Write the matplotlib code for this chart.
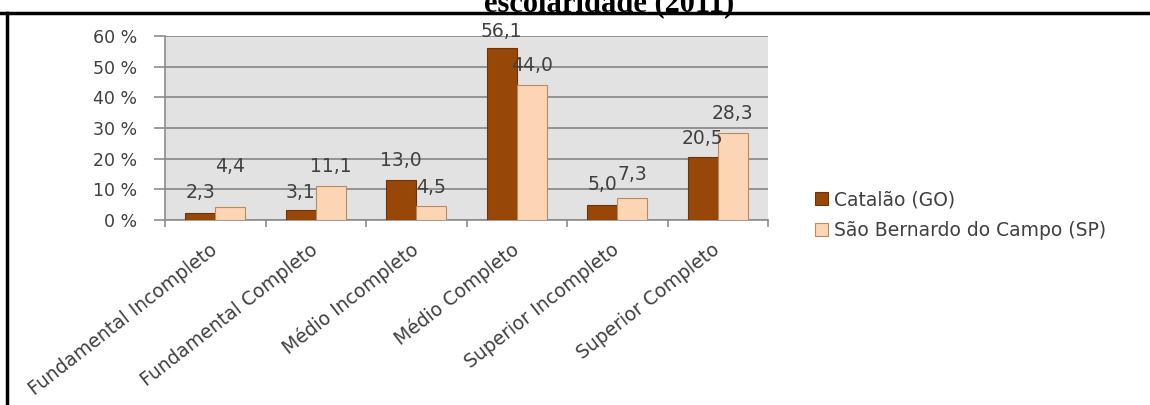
import matplotlib
matplotlib.use("Agg")
import matplotlib.pyplot as plt
from matplotlib.lines import Line2D
from matplotlib.patches import Patch
import numpy as np

plt.rcParams['font.family'] = ['DejaVu Sans']

categories = ["Fundamental Incompleto", "Fundamental Completo", "Médio Incompleto",
              "Médio Completo", "Superior Incompleto", "Superior Completo"]
catalao = [2.3, 3.1, 13.0, 56.1, 5.0, 20.5]
sao_bernardo = [4.4, 11.1, 4.5, 44.0, 7.3, 28.3]
series_names = ["Catalão (GO)", "São Bernardo do Campo (SP)"]
yticks = [0, 10, 20, 30, 40, 50, 60]
title = "escolaridade (2011)"

# vertical lift (pixels) of each value label above its bar
lift_catalao = [20, 18, 20, 16, 20, 19]
lift_sbc = [40, 19, 19, 20, 23, 20]

dark = "#974708"
dark_edge = "#6e3306"
light = "#fcd5b4"
light_edge = "#b98c60"
txt = "#404040"

fig = plt.figure(figsize=(11.5, 4.05), dpi=100)
fig.patch.set_facecolor("white")

ax = fig.add_axes([165 / 1150, 1 - 220 / 405, (768 - 165) / 1150, (220 - 36) / 405])
ax.set_facecolor("#e2e2e2")

x = np.arange(len(categories))
w = 0.3
b1 = ax.bar(x - w / 2, catalao, w, color=dark, edgecolor=dark_edge, linewidth=0.8, zorder=3)
b2 = ax.bar(x + w / 2, sao_bernardo, w, color=light, edgecolor=light_edge, linewidth=0.8, zorder=3)

for bars, vals, lifts in ((b1, catalao, lift_catalao), (b2, sao_bernardo, lift_sbc)):
    for rect, v, l in zip(bars, vals, lifts):
        ax.annotate(f"{v:.1f}".replace(".", ","),
                    (rect.get_x() + rect.get_width() / 2, v),
                    xytext=(0, l), textcoords="offset pixels",
                    ha="center", va="center", fontsize=13.5, color=txt, zorder=5)

ax.set_xlim(-0.5, len(categories) - 0.5)
ax.set_ylim(0, 60)
ax.set_yticks(yticks)
ax.set_yticklabels([f"{t} %" for t in yticks], fontsize=12.5, color=txt)
ax.yaxis.grid(True, color="#8c8c8c", linewidth=1.3, zorder=1)
ax.set_axisbelow(True)

ax.set_xticks(np.arange(-0.5, len(categories), 1.0))
ax.set_xticklabels([])
ax.set_xticks(x, minor=True)
ax.set_xticklabels(categories, minor=True, rotation=38, ha="right", va="center",
                   rotation_mode="anchor", fontsize=13.5, color=txt)
ax.tick_params(axis="x", which="minor", length=0, pad=20)
ax.tick_params(axis="x", which="major", length=5, color="#8c8c8c", width=1.2)
ax.tick_params(axis="y", length=8, color="#8c8c8c", width=1.2, pad=12)

for s in ("top", "right"):
    ax.spines[s].set_visible(False)
for s in ("left", "bottom"):
    ax.spines[s].set_color("#8c8c8c")
    ax.spines[s].set_linewidth(1.2)

handles = [Patch(facecolor=dark, edgecolor=dark_edge, linewidth=0.8),
           Patch(facecolor=light, edgecolor=light_edge, linewidth=0.8)]
fig.legend(handles, series_names, loc="center left", bbox_to_anchor=(798 / 1150, 1 - 215 / 405),
           frameon=False, fontsize=13.5, handlelength=0.7, handleheight=0.7,
           handletextpad=0.3, labelspacing=0.6, labelcolor=txt)

# frame lines around the figure
fig.add_artist(Line2D([0, 1], [1 - 13 / 405] * 2, color="black", linewidth=2.5,
                      transform=fig.transFigure))
fig.add_artist(Line2D([7 / 1150] * 2, [0, 1 - 13 / 405], color="black", linewidth=2.5,
                      transform=fig.transFigure))

# the caption above the frame runs past the top edge of the page
fig.text(609 / 1150, 1 - 11 / 405, title, ha="center", va="baseline",
         fontsize=22, fontweight="bold", family="Liberation Serif")

fig.savefig("out.png", dpi=100)
